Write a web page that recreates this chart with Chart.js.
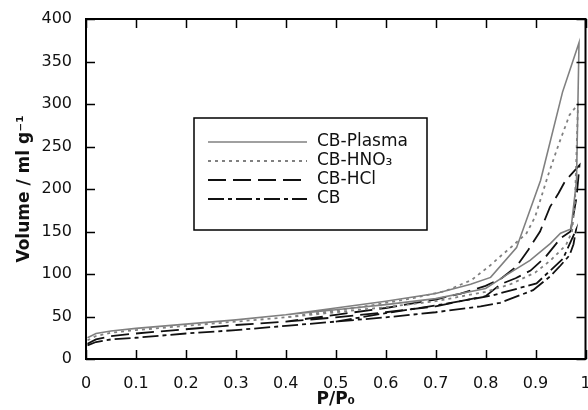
<!DOCTYPE html>
<html>
<head>
<meta charset="utf-8">
<script src="https://cdn.jsdelivr.net/npm/chart.js@4.4.1/dist/chart.umd.min.js"></script>
<style>
  html, body { margin: 0; padding: 0; background: #fff; }
  #wrap { width: 588px; height: 410px; }
</style>
</head>
<body>
<div id="wrap"><canvas id="iso" width="588" height="410"></canvas></div>
<script>
// ---- data (P/P0, volume ml/g) : adsorption then desorption, so each isotherm is a loop ----
const seriesNames = ['CB-Plasma', 'CB-HNO₃', 'CB-HCl', 'CB'];

const plasmaP = [0.003, 0.02, 0.05, 0.1, 0.2, 0.3, 0.4, 0.5, 0.6, 0.7, 0.8, 0.842, 0.889, 0.93, 0.95, 0.971, 0.982, 0.987,
                 0.954, 0.91, 0.862, 0.81, 0.77, 0.7, 0.6, 0.5, 0.4];
const plasmaV = [25, 30, 33, 36, 41, 46, 52, 58, 64, 71, 83, 99, 116, 136, 148, 153, 210, 372,
                 314, 210, 131, 96, 88, 77, 68, 60, 52];

const hno3P = [0.003, 0.02, 0.05, 0.1, 0.2, 0.3, 0.4, 0.5, 0.6, 0.7, 0.8, 0.85, 0.9, 0.93, 0.961, 0.973, 0.979, 0.985,
               0.968, 0.946, 0.925, 0.899, 0.882, 0.852, 0.832, 0.809, 0.772, 0.72, 0.65, 0.55, 0.4];
const hno3V = [22, 27, 31, 34, 39, 44, 49, 55, 61, 68, 79, 88, 102, 116, 134, 150, 185, 300,
               287, 252, 216, 167, 148, 132, 122, 110, 93, 80, 71, 61, 49];

const hclP = [0.003, 0.02, 0.05, 0.1, 0.2, 0.3, 0.4, 0.5, 0.6, 0.7, 0.8, 0.83, 0.86, 0.89, 0.92, 0.95, 0.97, 0.982, 0.988,
              0.959, 0.946, 0.929, 0.909, 0.885, 0.862, 0.832, 0.8, 0.75, 0.7, 0.6, 0.5, 0.4];
const hclV = [18, 23, 27, 30, 35, 40, 44, 49, 55, 62, 74, 88, 95, 104, 120, 142, 150, 190, 228,
              209, 195, 179, 150, 128, 109, 95, 86, 77, 70, 60, 52, 44];

const cbP = [0.003, 0.02, 0.05, 0.1, 0.2, 0.3, 0.4, 0.5, 0.6, 0.7, 0.79, 0.829, 0.895, 0.929, 0.95, 0.968, 0.976, 0.981,
             0.955, 0.902, 0.815, 0.75, 0.7, 0.6, 0.5];
const cbV = [16, 20, 23, 25, 30, 34, 39, 44, 49, 55, 62, 66, 81, 97, 110, 122, 135, 152,
             118, 89, 75, 68, 63, 54, 44];

const xTicks = [0, 0.1, 0.2, 0.3, 0.4, 0.5, 0.6, 0.7, 0.8, 0.9, 1];
const yTicks = [0, 50, 100, 150, 200, 250, 300, 350, 400];

// ---- helpers ----
function toPoints(px, vy) {
    return px.map((p, i) => ({ x: p, y: vy[i] }));
}

const GRAY = '#808080';
const BLACK = '#111111';

const styles = [
    { color: GRAY,  dash: [],              width: 1.6 },
    { color: GRAY,  dash: [3, 4],          width: 1.8 },
    { color: BLACK, dash: [18, 7],         width: 1.8 },
    { color: BLACK, dash: [16, 4, 4, 4],   width: 1.8 }
];

const allData = [
    toPoints(plasmaP, plasmaV),
    toPoints(hno3P, hno3V),
    toPoints(hclP, hclV),
    toPoints(cbP, cbV)
];

// frame with inward ticks on all four sides
const framePlugin = {
    id: 'frameTicks',
    afterDraw(chart) {
        const { ctx, chartArea: a, scales } = chart;
        const tl = 9;
        ctx.save();
        ctx.strokeStyle = '#000';
        ctx.lineWidth = 1.5;
        ctx.beginPath();
        xTicks.forEach(v => {
            const px = Math.round(scales.x.getPixelForValue(v)) + 0.5;
            ctx.moveTo(px, a.bottom); ctx.lineTo(px, a.bottom - tl);
            ctx.moveTo(px, a.top);    ctx.lineTo(px, a.top + tl);
        });
        yTicks.forEach(v => {
            const py = Math.round(scales.y.getPixelForValue(v)) + 0.5;
            ctx.moveTo(a.left, py);  ctx.lineTo(a.left + tl, py);
            ctx.moveTo(a.right, py); ctx.lineTo(a.right - tl, py);
        });
        ctx.stroke();
        ctx.lineWidth = 2;
        ctx.strokeRect(a.left, a.top, a.right - a.left, a.bottom - a.top);
        ctx.restore();
    }
};

// boxed legend inside the plot
const legendPlugin = {
    id: 'boxLegend',
    afterDraw(chart) {
        const { ctx } = chart;
        const box = { x: 194, y: 118, w: 233, h: 112 };
        const rowY = [142, 161, 180, 199];
        ctx.save();
        ctx.fillStyle = '#fff';
        ctx.fillRect(box.x, box.y, box.w, box.h);
        ctx.strokeStyle = '#000';
        ctx.lineWidth = 1.5;
        ctx.strokeRect(box.x, box.y, box.w, box.h);
        seriesNames.forEach((name, i) => {
            const s = styles[i];
            ctx.beginPath();
            ctx.setLineDash(s.dash);
            ctx.strokeStyle = s.color;
            ctx.lineWidth = s.width;
            ctx.moveTo(208, rowY[i]);
            ctx.lineTo(307, rowY[i]);
            ctx.stroke();
            ctx.setLineDash([]);
            ctx.fillStyle = '#111';
            ctx.font = '17px "DejaVu Sans", sans-serif';
            ctx.textBaseline = 'middle';
            ctx.textAlign = 'left';
            ctx.fillText(name, 317, rowY[i]);
        });
        ctx.restore();
    }
};

Chart.defaults.font.family = '"DejaVu Sans", "Liberation Sans", sans-serif';
Chart.defaults.color = '#111';

new Chart(document.getElementById('iso').getContext('2d'), {
    type: 'scatter',
    data: {
        datasets: allData.map((pts, i) => ({
            label: seriesNames[i],
            data: pts,
            showLine: true,
            fill: false,
            tension: 0,
            pointRadius: 0,
            borderColor: styles[i].color,
            borderDash: styles[i].dash,
            borderWidth: styles[i].width
        }))
    },
    options: {
        responsive: false,
        animation: false,
        devicePixelRatio: 1,
        layout: { padding: { top: 19, right: 2.5, left: 0, bottom: 0 } },
        plugins: {
            legend: { display: false },
            tooltip: { enabled: false }
        },
        scales: {
            x: {
                type: 'linear',
                min: 0,
                max: 1,
                afterBuildTicks: s => { s.ticks = xTicks.map(v => ({ value: v })); },
                afterFit: s => { s.height = 51; s.paddingLeft = 0; s.paddingRight = 0; },
                ticks: {
                    autoSkip: false,
                    maxRotation: 0,
                    padding: 7,
                    font: { size: 16 },
                    color: '#111',
                    callback: v => String(v)
                },
                grid: { display: false },
                border: { display: false },
                title: {
                    display: true,
                    text: 'P/P₀',
                    font: { size: 17, weight: 'bold' },
                    color: '#111',
                    padding: { top: 0, bottom: 0 }
                }
            },
            y: {
                type: 'linear',
                min: 0,
                max: 400,
                afterBuildTicks: s => { s.ticks = yTicks.map(v => ({ value: v })); },
                afterFit: s => { s.width = 86; s.paddingTop = 0; s.paddingBottom = 0; },
                ticks: {
                    padding: 6,
                    font: { size: 16 },
                    color: '#111'
                },
                grid: { display: false },
                border: { display: false },
                title: {
                    display: true,
                    text: 'Volume / ml g⁻¹',
                    font: { size: 17, weight: 'bold' },
                    color: '#111',
                    padding: { top: 14, bottom: 0 }
                }
            }
        }
    },
    plugins: [framePlugin, legendPlugin]
});
</script>
</body>
</html>
